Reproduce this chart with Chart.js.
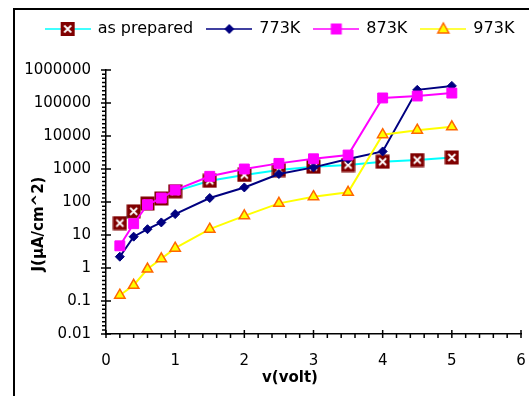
<!DOCTYPE html>
<html>
<head>
<meta charset="utf-8">
<script src="https://cdn.jsdelivr.net/npm/chart.js@4.4.0/dist/chart.umd.min.js"></script>
<style>
  body { margin: 0; background: #fff; }
  canvas { display: block; }
</style>
</head>
<body>
<canvas id="ivChart" width="529" height="396"></canvas>
<script>
// applied voltage (V)
var volts = [0.2, 0.4, 0.6, 0.8, 1, 1.5, 2, 2.5, 3, 3.5, 4, 4.5, 5];

// current density J (uA/cm^2)
var asPrepared = [23, 52, 90, 128, 210, 440, 660, 930, 1170, 1320, 1660, 1870, 2240];
var k773 = [2.2, 8.9, 15, 24, 43, 132, 276, 705, 1120, 2000, 3400, 250000, 330000];
var k873 = [4.7, 22, 83, 132, 230, 600, 1000, 1480, 2040, 2650, 142000, 163000, 200000];
var k973 = [0.15, 0.3, 0.93, 1.9, 4, 15, 38, 91, 145, 196, 11000, 15000, 19000];

var seriesNames = ['as prepared', '773K', '873K', '973K'];

var xTicks = [0, 1, 2, 3, 4, 5, 6];
var xTickLabels = ['0', '1', '2', '3', '4', '5', '6'];
var yTicks = [0.01, 0.1, 1, 10, 100, 1000, 10000, 100000, 1000000];
var yTickLabels = ['0.01', '0.1', '1', '10', '100', '1000', '10000', '100000', '1000000'];

var xTitle = 'v(volt)';
var yTitle = 'J(\u03bcA/cm^2)';

Chart.defaults.font.family = 'DejaVu Sans';
Chart.defaults.color = '#000';

function makeCanvas(w, h) {
  var c = document.createElement('canvas');
  c.width = w;
  c.height = h;
  return c;
}

// marker shapes, used for the legend icons (and the boxed x on the chart)
function drawMarker(ctx, kind, cx, cy) {
  ctx.save();
  if (kind === 'xbox') {
    ctx.fillStyle = '#800000';
    ctx.fillRect(cx - 7, cy - 7, 14, 14);
    ctx.strokeStyle = '#fff';
    ctx.lineWidth = 1.8;
    ctx.beginPath();
    ctx.moveTo(cx - 3.5, cy - 3.5); ctx.lineTo(cx + 3.5, cy + 3.5);
    ctx.moveTo(cx + 3.5, cy - 3.5); ctx.lineTo(cx - 3.5, cy + 3.5);
    ctx.stroke();
  } else if (kind === 'diamond') {
    ctx.fillStyle = '#000080';
    ctx.beginPath();
    ctx.moveTo(cx, cy - 5); ctx.lineTo(cx + 5, cy); ctx.lineTo(cx, cy + 5); ctx.lineTo(cx - 5, cy);
    ctx.closePath();
    ctx.fill();
  } else if (kind === 'square') {
    ctx.fillStyle = '#ff00ff';
    ctx.fillRect(cx - 5.5, cy - 5.5, 11, 11);
  } else if (kind === 'triangle') {
    ctx.fillStyle = '#ffff00';
    ctx.strokeStyle = '#ff6600';
    ctx.lineWidth = 1.5;
    ctx.beginPath();
    ctx.moveTo(cx, cy - 6); ctx.lineTo(cx + 5.5, cy + 4); ctx.lineTo(cx - 5.5, cy + 4);
    ctx.closePath();
    ctx.fill();
    ctx.stroke();
  }
  ctx.restore();
}

var xBox = makeCanvas(15, 15);
drawMarker(xBox.getContext('2d'), 'xbox', 7.5, 7.5);

var lineColors = ['#00ffff', '#000080', '#ff00ff', '#ffff00'];
var markerKinds = ['xbox', 'diamond', 'square', 'triangle'];

// legend icon = short line with the marker in the middle
var legendIcons = markerKinds.map(function(kind, i) {
  var c = makeCanvas(46, 18);
  var ctx = c.getContext('2d');
  ctx.strokeStyle = lineColors[i];
  ctx.lineWidth = 1.5;
  ctx.beginPath();
  ctx.moveTo(0, 9);
  ctx.lineTo(46, 9);
  ctx.stroke();
  drawMarker(ctx, kind, 23, 9);
  return c;
});

function toPoints(ys) {
  return volts.map(function(v, i) { return {x: v, y: ys[i]}; });
}

// frame round the whole chart (cropped on the right and bottom)
var framePlugin = {
  id: 'frame',
  afterLayout: function(chart) {
    // legend row sits a bit right of the canvas centre, like the original
    chart.legend.left += 17;
    chart.legend.right += 17;
  },
  beforeDraw: function(chart) {
    var ctx = chart.ctx;
    ctx.save();
    ctx.fillStyle = '#fff';
    ctx.fillRect(0, 0, chart.width, chart.height);
    ctx.strokeStyle = '#000';
    ctx.lineWidth = 2;
    ctx.strokeRect(14, 9, chart.width + 20, chart.height + 20);
    ctx.restore();
  }
};

// excel style tick marks: major ticks cross the axis, minor ones stick out
var tickPlugin = {
  id: 'axisTicks',
  afterDraw: function(chart) {
    var ctx = chart.ctx;
    var xs = chart.scales.x;
    var ys = chart.scales.y;
    var area = chart.chartArea;
    ctx.save();
    ctx.strokeStyle = '#000';
    ctx.lineWidth = 1.5;
    ctx.beginPath();
    for (var i = 0; i < xTicks.length; i++) {
      var px = xs.getPixelForValue(xTicks[i]);
      ctx.moveTo(px, area.bottom - 4); ctx.lineTo(px, area.bottom + 4);
      if (i < xTicks.length - 1) {
        var step = (xs.getPixelForValue(xTicks[i + 1]) - px) / 5;
        for (var m = 1; m < 5; m++) {
          ctx.moveTo(px + step * m, area.bottom); ctx.lineTo(px + step * m, area.bottom + 4);
        }
      }
    }
    for (var j = 0; j < yTicks.length; j++) {
      var py = ys.getPixelForValue(yTicks[j]);
      ctx.moveTo(area.left - 5, py); ctx.lineTo(area.left + 5, py);
      if (j < yTicks.length - 1) {
        var ystep = (ys.getPixelForValue(yTicks[j + 1]) - py) / 8;
        for (var n = 1; n < 8; n++) {
          ctx.moveTo(area.left - 4, py + ystep * n); ctx.lineTo(area.left, py + ystep * n);
        }
      }
    }
    ctx.stroke();
    ctx.restore();
  }
};

var titlePlugin = {
  id: 'axisTitles',
  afterDraw: function(chart) {
    var ctx = chart.ctx;
    var area = chart.chartArea;
    ctx.save();
    ctx.fillStyle = '#000';
    ctx.font = 'bold 15px "DejaVu Sans"';
    ctx.textAlign = 'center';
    ctx.textBaseline = 'middle';
    ctx.fillText(xTitle, area.left + 184, area.bottom + 44);
    ctx.translate(area.left - 67, area.top + 154);
    ctx.rotate(-Math.PI / 2);
    ctx.fillText(yTitle, 0, 0);
    ctx.restore();
  }
};

var ctx = document.getElementById('ivChart').getContext('2d');
var ivChart = new Chart(ctx, {
  type: 'line',
  data: {
    datasets: [{
      label: seriesNames[0],
      data: toPoints(asPrepared),
      borderColor: lineColors[0],
      borderWidth: 2,
      pointStyle: xBox,
      order: 4
    }, {
      label: seriesNames[1],
      data: toPoints(k773),
      borderColor: lineColors[1],
      borderWidth: 2,
      pointStyle: 'rectRot',
      pointRadius: 4.5,
      pointBackgroundColor: '#000080',
      pointBorderColor: '#000080',
      pointBorderWidth: 1,
      order: 3
    }, {
      label: seriesNames[2],
      data: toPoints(k873),
      borderColor: lineColors[2],
      borderWidth: 2,
      pointStyle: 'rect',
      pointRadius: 7,
      pointBackgroundColor: '#ff00ff',
      pointBorderColor: '#ff00ff',
      pointBorderWidth: 1,
      order: 2
    }, {
      label: seriesNames[3],
      data: toPoints(k973),
      borderColor: lineColors[3],
      borderWidth: 2,
      pointStyle: 'triangle',
      pointRadius: 6,
      pointBackgroundColor: '#ffff00',
      pointBorderColor: '#ff6600',
      pointBorderWidth: 1.5,
      order: 1
    }]
  },
  options: {
    responsive: false,
    animation: false,
    layout: {
      padding: {left: 0, right: 3, top: 7, bottom: 12}
    },
    plugins: {
      tooltip: {enabled: false},
      legend: {
        position: 'top',
        labels: {
          usePointStyle: true,
          pointStyleWidth: 44,
          padding: 14,
          color: '#000',
          font: {size: 16},
          generateLabels: function(chart) {
            return chart.data.datasets.map(function(ds, i) {
              return {
                text: ds.label,
                pointStyle: legendIcons[i],
                fillStyle: ds.borderColor,
                strokeStyle: ds.borderColor,
                lineWidth: 0,
                fontColor: '#000',
                hidden: false,
                datasetIndex: i
              };
            });
          }
        }
      }
    },
    scales: {
      x: {
        type: 'linear',
        position: 'bottom',
        min: 0,
        max: 6,
        grid: {display: false, drawTicks: false},
        border: {display: true, color: '#000', width: 1.5},
        afterBuildTicks: function(s) {
          s.ticks = xTicks.map(function(v) { return {value: v}; });
        },
        afterFit: function(s) {
          s.height = 50;
          s.paddingLeft = 0;
          s.paddingRight = 0;
        },
        ticks: {
          autoSkip: false,
          maxRotation: 0,
          padding: 18,
          color: '#000',
          font: {size: 15},
          callback: function(v, i) { return xTickLabels[i]; }
        }
      },
      // empty band between legend and plot
      gap: {
        type: 'linear',
        position: 'top',
        display: true,
        grid: {display: false, drawTicks: false},
        border: {display: false},
        ticks: {display: false},
        afterFit: function(s) { s.height = 23; }
      },
      y: {
        type: 'logarithmic',
        position: 'left',
        min: 0.01,
        max: 1000000,
        grid: {display: false, drawTicks: false},
        border: {display: true, color: '#000', width: 1.5},
        afterBuildTicks: function(s) {
          s.ticks = yTicks.map(function(v) { return {value: v}; });
        },
        afterFit: function(s) {
          s.width = 106;
          s.paddingTop = 0;
          s.paddingBottom = 0;
        },
        ticks: {
          autoSkip: false,
          padding: 15,
          color: '#000',
          font: {size: 15},
          callback: function(v, i) { return yTickLabels[i]; }
        }
      }
    }
  },
  plugins: [framePlugin, tickPlugin, titlePlugin]
});
</script>
</body>
</html>
